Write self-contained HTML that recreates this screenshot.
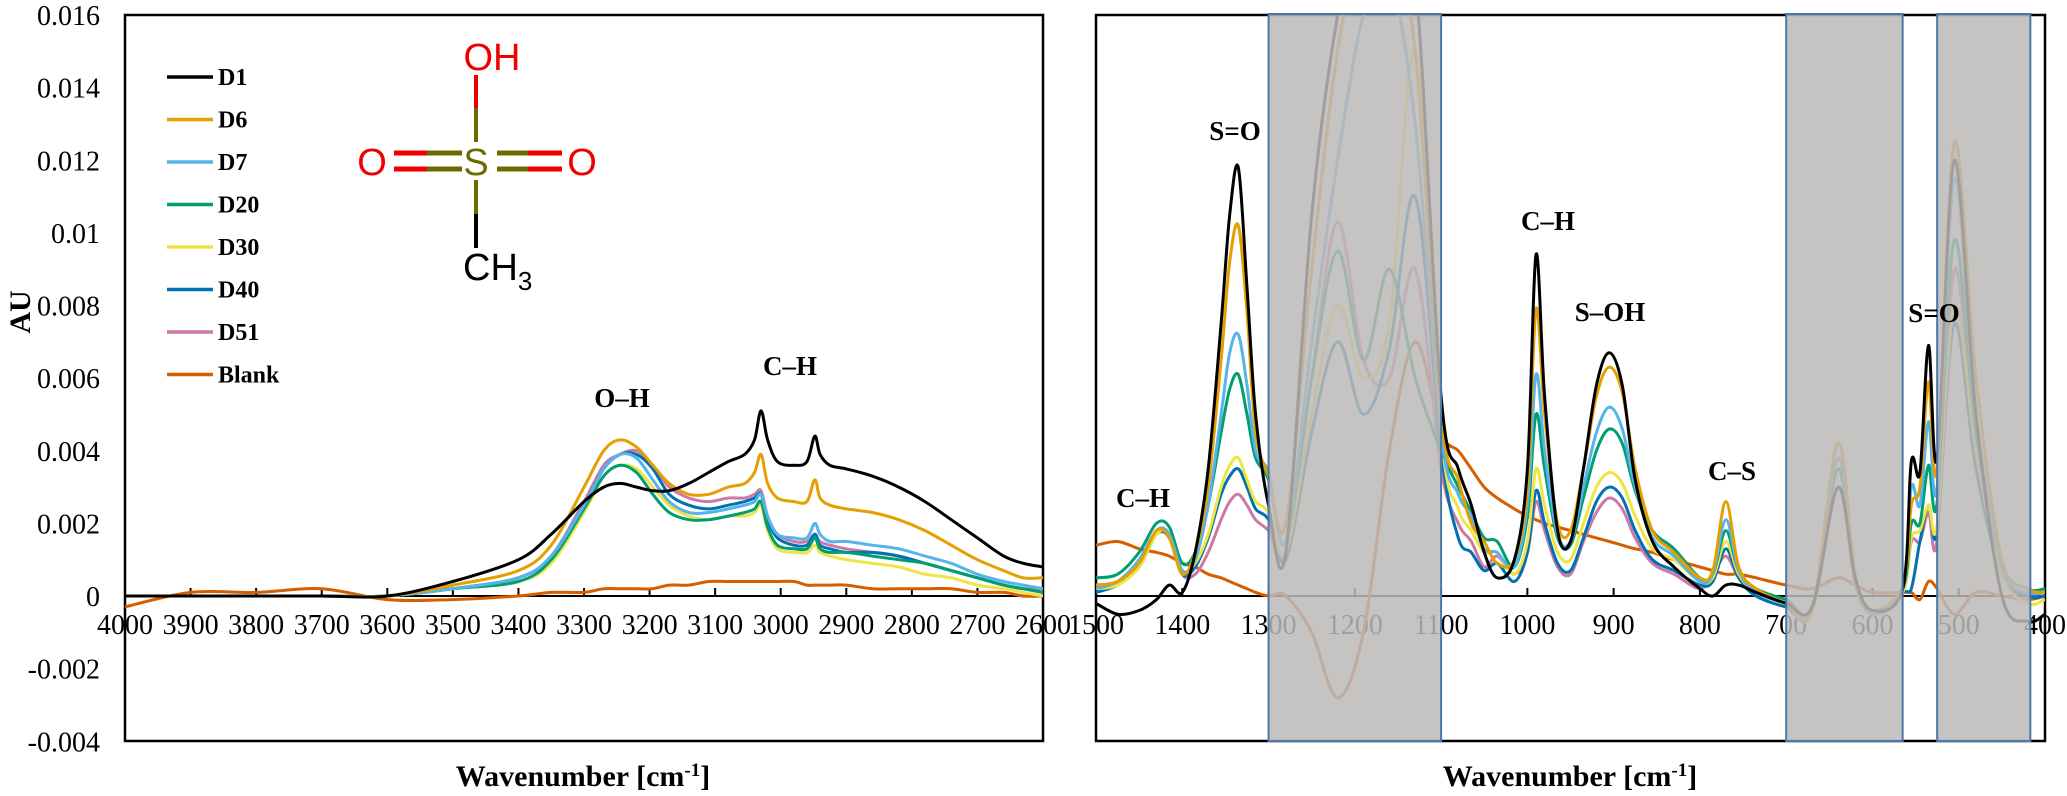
<!DOCTYPE html>
<html><head><meta charset="utf-8"><style>
html,body{margin:0;padding:0;background:#fff;}
svg{display:block;}
.tick{font-family:"Liberation Serif",serif;font-size:28px;fill:#000;}
.lab{font-family:"Liberation Serif",serif;font-size:27px;font-weight:bold;fill:#000;}
.leg{font-family:"Liberation Serif",serif;font-size:24px;font-weight:bold;fill:#000;}
.mol{font-family:"Liberation Sans",sans-serif;font-size:38px;}
</style></head><body>
<svg id="chart" width="2067" height="796" viewBox="0 0 2067 796" xmlns="http://www.w3.org/2000/svg">
<defs>
<clipPath id="clipL"><rect x="125" y="15" width="918" height="726"/></clipPath>
<clipPath id="clipR"><rect x="1096" y="15" width="949" height="726"/></clipPath>
</defs>
<g id="left"></g>
<g id="right"></g>
<g id="overlay">
<text class="lab" x="622" y="407" text-anchor="middle">O–H</text>
<text class="lab" x="790" y="375" text-anchor="middle">C–H</text>
<text class="lab" x="1143" y="507" text-anchor="middle">C–H</text>
<text class="lab" x="1235" y="140" text-anchor="middle">S=O</text>
<text class="lab" x="1548" y="230" text-anchor="middle">C–H</text>
<text class="lab" x="1610" y="321" text-anchor="middle">S–OH</text>
<text class="lab" x="1732" y="480" text-anchor="middle">C–S</text>
<text class="lab" x="1934" y="322" text-anchor="middle">S=O</text>
<text x="583" y="786" text-anchor="middle" font-family="Liberation Serif, serif" font-size="30" font-weight="bold">Wavenumber  [cm<tspan baseline-shift="super" font-size="19">-1</tspan>]</text>
<text x="1570" y="786" text-anchor="middle" font-family="Liberation Serif, serif" font-size="30" font-weight="bold">Wavenumber  [cm<tspan baseline-shift="super" font-size="19">-1</tspan>]</text>
<text transform="translate(30,312) rotate(-90)" text-anchor="middle" font-family="Liberation Serif, serif" font-size="30" font-weight="bold">AU</text>
<g>
<line x1="476" y1="75" x2="476" y2="108" stroke="#e00" stroke-width="4"/>
<line x1="476" y1="108" x2="476" y2="142" stroke="#6b6b00" stroke-width="4"/>
<line x1="476" y1="180" x2="476" y2="214" stroke="#6b6b00" stroke-width="4"/>
<line x1="476" y1="214" x2="476" y2="248" stroke="#000" stroke-width="4"/>
<line x1="394" y1="153" x2="427" y2="153" stroke="#e00" stroke-width="5"/>
<line x1="427" y1="153" x2="462" y2="153" stroke="#6b6b00" stroke-width="5"/>
<line x1="394" y1="169" x2="427" y2="169" stroke="#e00" stroke-width="5"/>
<line x1="427" y1="169" x2="462" y2="169" stroke="#6b6b00" stroke-width="5"/>
<line x1="497" y1="153" x2="528" y2="153" stroke="#6b6b00" stroke-width="5"/>
<line x1="528" y1="153" x2="562" y2="153" stroke="#e00" stroke-width="5"/>
<line x1="497" y1="169" x2="528" y2="169" stroke="#6b6b00" stroke-width="5"/>
<line x1="528" y1="169" x2="562" y2="169" stroke="#e00" stroke-width="5"/>
<text class="mol" x="476" y="175" text-anchor="middle" fill="#6b6b00">S</text>
<text class="mol" x="372" y="175" text-anchor="middle" fill="#e00">O</text>
<text class="mol" x="582" y="175" text-anchor="middle" fill="#e00">O</text>
<text class="mol" x="492" y="70" text-anchor="middle" fill="#e00">OH</text>
<text class="mol" x="463" y="280" fill="#000">CH<tspan font-size="26" dy="10">3</tspan></text>
</g>
</g>
</svg>
<script>
var NS='http://www.w3.org/2000/svg';
var seriesNames=['D1','D6','D7','D20','D30','D40','D51','Blank'];
var seriesColors=['#000000','#e69f00','#56b4e9','#009e73','#f0e442','#0072b2','#cc79a7','#d55e00'];
var yTicks=[0.016,0.014,0.012,0.01,0.008,0.006,0.004,0.002,0,-0.002,-0.004];
var yTickLabels=['0.016','0.014','0.012','0.01','0.008','0.006','0.004','0.002','0','-0.002','-0.004'];
var leftTicks=[4000,3900,3800,3700,3600,3500,3400,3300,3200,3100,3000,2900,2800,2700,2600];
var rightTicks=[1500,1400,1300,1200,1100,1000,900,800,700,600,500,400];
var bands=[[1300,1100],[700,565],[525,417]];

var wnL=[4000,3900,3800,3700,3600,3500,3400,3350,3300,3270,3245,3220,3195,3170,3140,3110,3080,3055,3040,3030,3020,3005,2980,2960,2948,2940,2925,2900,2860,2820,2780,2740,2700,2660,2630,2600];
var L_D1=[0,0,0,0,0,0.0004,0.0010,0.0017,0.0026,0.0030,0.0031,0.0030,0.0029,0.0029,0.0031,0.0034,0.0037,0.0039,0.0043,0.0051,0.0043,0.0037,0.0036,0.0037,0.0044,0.0039,0.0036,0.0035,0.0033,0.0030,0.0026,0.0021,0.0016,0.0011,0.0009,0.0008];
var L_D6=[0,0,0,0,0,0.0003,0.0007,0.0014,0.0030,0.0040,0.0043,0.0041,0.0036,0.0031,0.0028,0.0028,0.0030,0.0031,0.0034,0.0039,0.0031,0.0027,0.0026,0.0026,0.0032,0.0027,0.0025,0.0024,0.0023,0.0021,0.0018,0.0014,0.0010,0.0007,0.0005,0.0005];
var L_D7=[0,0,0,0,0,0.0002,0.0005,0.0011,0.0025,0.0035,0.0039,0.0038,0.0032,0.0026,0.0023,0.0023,0.0024,0.0025,0.0026,0.0028,0.0022,0.0017,0.0016,0.0016,0.0020,0.0017,0.0015,0.0015,0.0014,0.0013,0.0011,0.0009,0.0006,0.0004,0.0003,0.0002];
var L_D20=[0,0,0,0,0,0.0002,0.0004,0.0010,0.0024,0.0033,0.0036,0.0034,0.0028,0.0023,0.0021,0.0021,0.0022,0.0023,0.0024,0.0026,0.0019,0.0014,0.0013,0.0013,0.0016,0.0013,0.0012,0.0012,0.0011,0.0010,0.0009,0.0007,0.0005,0.0003,0.0002,0.0001];
var L_D30=[0,0,0,0,0,0.0002,0.0004,0.0009,0.0023,0.0033,0.0036,0.0035,0.0030,0.0025,0.0022,0.0021,0.0022,0.0022,0.0023,0.0025,0.0018,0.0013,0.0012,0.0012,0.0014,0.0012,0.0011,0.0010,0.0009,0.0008,0.0006,0.0005,0.0003,0.0002,0.0001,0.0000];
var L_D40=[0,0,0,0,0,0.0002,0.0005,0.0011,0.0025,0.0035,0.0039,0.0039,0.0035,0.0028,0.0025,0.0024,0.0025,0.0026,0.0027,0.0028,0.0021,0.0016,0.0014,0.0014,0.0017,0.0014,0.0013,0.0012,0.0012,0.0011,0.0009,0.0007,0.0005,0.0003,0.0002,0.0001];
var L_D51=[0,0,0,0,0,0.0002,0.0005,0.0011,0.0026,0.0036,0.0039,0.0040,0.0036,0.0030,0.0027,0.0026,0.0027,0.0027,0.0028,0.0029,0.0022,0.0017,0.0015,0.0015,0.0017,0.0015,0.0014,0.0013,0.0012,0.0011,0.0009,0.0007,0.0005,0.0003,0.0002,0.0002];
var L_Blank=[-0.0003,0.0001,0.0001,0.0002,-0.0001,-0.0001,0.0000,0.0001,0.0001,0.0002,0.0002,0.0002,0.0002,0.0003,0.0003,0.0004,0.0004,0.0004,0.0004,0.0004,0.0004,0.0004,0.0004,0.0003,0.0003,0.0003,0.0003,0.0003,0.0002,0.0002,0.0002,0.0002,0.0001,0.0001,0.0000,0.0000];

var wnR=[1500,1475,1450,1430,1415,1400,1385,1370,1355,1345,1335,1325,1315,1300,1280,1250,1220,1190,1160,1130,1100,1080,1065,1050,1035,1015,1000,990,980,965,950,935,920,905,890,875,855,830,800,785,770,755,735,700,670,640,620,600,565,555,545,535,525,505,480,450,420,400];
var R_D1=[-0.0002,-0.0005,-0.0004,-0.0001,0.0003,0.0001,0.0012,0.0035,0.0075,0.0105,0.0118,0.0085,0.0050,0.0025,0.0012,0.0105,0.0160,0.0190,0.0190,0.0170,0.0055,0.0035,0.0025,0.0012,0.0005,0.0010,0.0035,0.0094,0.0055,0.0018,0.0015,0.0035,0.0058,0.0067,0.0058,0.0032,0.0015,0.0008,0.0002,0.0000,0.0003,0.0003,0.0001,-0.0002,-0.0003,0.0030,0.0005,-0.0004,0.0002,0.0037,0.0034,0.0069,0.0038,0.0120,0.0050,0.0000,-0.0007,-0.0005];
var R_D6=[0.0003,0.0004,0.0009,0.0018,0.0016,0.0006,0.0012,0.0030,0.0065,0.0092,0.0102,0.0078,0.0045,0.0033,0.0020,0.0090,0.0150,0.0180,0.0180,0.0150,0.0050,0.0032,0.0020,0.0015,0.0009,0.0010,0.0030,0.0079,0.0050,0.0020,0.0018,0.0035,0.0055,0.0063,0.0056,0.0035,0.0018,0.0012,0.0005,0.0007,0.0026,0.0008,0.0002,-0.0002,-0.0004,0.0042,0.0006,-0.0004,0.0003,0.0025,0.0030,0.0059,0.0035,0.0125,0.0060,0.0010,0.0002,0.0001];
var R_D7=[0.0002,0.0004,0.0010,0.0018,0.0017,0.0007,0.0010,0.0025,0.0050,0.0067,0.0072,0.0058,0.0040,0.0034,0.0015,0.0070,0.0120,0.0160,0.0170,0.0130,0.0045,0.0028,0.0022,0.0013,0.0012,0.0008,0.0025,0.0061,0.0040,0.0017,0.0015,0.0030,0.0045,0.0052,0.0046,0.0030,0.0016,0.0011,0.0004,0.0006,0.0021,0.0007,0.0001,-0.0002,-0.0004,0.0038,0.0005,-0.0005,0.0002,0.0030,0.0025,0.0048,0.0030,0.0115,0.0050,0.0008,0.0001,0.0001];
var R_D20=[0.0005,0.0006,0.0012,0.0020,0.0019,0.0009,0.0012,0.0025,0.0045,0.0057,0.0061,0.0050,0.0038,0.0032,0.0015,0.0060,0.0095,0.0065,0.0090,0.0060,0.0040,0.0030,0.0023,0.0016,0.0015,0.0008,0.0022,0.0050,0.0035,0.0016,0.0014,0.0027,0.0040,0.0046,0.0042,0.0029,0.0018,0.0013,0.0005,0.0006,0.0018,0.0007,0.0002,-0.0001,-0.0003,0.0035,0.0004,-0.0004,0.0002,0.0020,0.0020,0.0036,0.0026,0.0098,0.0045,0.0009,0.0002,0.0002];
var R_D30=[0.0002,0.0003,0.0008,0.0017,0.0017,0.0007,0.0009,0.0017,0.0030,0.0036,0.0038,0.0032,0.0026,0.0023,0.0012,0.0050,0.0080,0.0060,0.0075,0.0150,0.0045,0.0024,0.0018,0.0012,0.0012,0.0006,0.0015,0.0035,0.0025,0.0012,0.0010,0.0020,0.0030,0.0034,0.0031,0.0022,0.0013,0.0010,0.0004,0.0005,0.0015,0.0006,0.0001,-0.0002,-0.0004,0.0030,0.0003,-0.0005,0.0001,0.0016,0.0018,0.0025,0.0020,0.0080,0.0040,0.0006,-0.0002,-0.0001];
var R_D40=[0.0001,0.0003,0.0008,0.0017,0.0016,0.0006,0.0008,0.0016,0.0028,0.0033,0.0035,0.0030,0.0024,0.0021,0.0010,0.0045,0.0070,0.0050,0.0068,0.0110,0.0040,0.0016,0.0012,0.0007,0.0009,0.0004,0.0012,0.0029,0.0020,0.0009,0.0007,0.0016,0.0026,0.0030,0.0027,0.0018,0.0010,0.0007,0.0003,0.0004,0.0013,0.0005,0.0000,-0.0003,-0.0004,0.0030,0.0004,-0.0005,0.0001,0.0002,0.0015,0.0025,0.0018,0.0075,0.0035,0.0006,0.0000,0.0000];
var R_D51=[0.0003,0.0004,0.0009,0.0018,0.0017,0.0006,0.0006,0.0012,0.0021,0.0026,0.0028,0.0025,0.0021,0.0018,0.0012,0.0060,0.0103,0.0065,0.0060,0.0090,0.0035,0.0020,0.0015,0.0008,0.0011,0.0006,0.0012,0.0026,0.0018,0.0008,0.0006,0.0015,0.0023,0.0027,0.0024,0.0016,0.0009,0.0006,0.0002,0.0006,0.0011,0.0005,0.0000,-0.0003,-0.0004,0.0042,0.0005,-0.0005,0.0001,0.0015,0.0015,0.0023,0.0016,0.0090,0.0040,0.0006,0.0000,0.0000];
var R_Blank=[0.0014,0.0015,0.0013,0.0012,0.0011,0.0009,0.0008,0.0006,0.0005,0.0004,0.0003,0.0002,0.0001,0.0000,0.0000,-0.0010,-0.0028,-0.0010,0.0040,0.0070,0.0045,0.0040,0.0035,0.0030,0.0027,0.0024,0.0022,0.0021,0.0020,0.0019,0.0018,0.0017,0.0016,0.0015,0.0014,0.0013,0.0012,0.0010,0.0008,0.0007,0.0006,0.0006,0.0005,0.0003,0.0002,0.0005,0.0003,0.0001,0.0001,0.0001,-0.0001,0.0004,0.0002,-0.0005,0.0001,0.0000,-0.0001,0.0000];

var leftSeries=[L_D1,L_D6,L_D7,L_D20,L_D30,L_D40,L_D51,L_Blank];
var rightSeries=[R_D1,R_D6,R_D7,R_D20,R_D30,R_D40,R_D51,R_Blank];

function yS(v){return 596-(v/0.016)*581;}
function xL(w){return 125+(4000-w)/1400*918;}
function xR(w){return 1096+(1500-w)/1100*949;}
function mk(tag,attrs,parent){var e=document.createElementNS(NS,tag);for(var k in attrs)e.setAttribute(k,attrs[k]);parent.appendChild(e);return e;}
function smooth(pts){
  var d='M'+pts[0][0].toFixed(1)+','+pts[0][1].toFixed(1);
  for(var i=0;i<pts.length-1;i++){
    var p0=pts[i-1]||pts[i],p1=pts[i],p2=pts[i+1],p3=pts[i+2]||p2;
    var c1x=p1[0]+(p2[0]-p0[0])/6,c1y=p1[1]+(p2[1]-p0[1])/6;
    var c2x=p2[0]-(p3[0]-p1[0])/6,c2y=p2[1]-(p3[1]-p1[1])/6;
    d+=' C'+c1x.toFixed(1)+','+c1y.toFixed(1)+' '+c2x.toFixed(1)+','+c2y.toFixed(1)+' '+p2[0].toFixed(1)+','+p2[1].toFixed(1);
  }
  return d;
}
var L=document.getElementById('left'),R=document.getElementById('right');
var f1=mk('rect',{x:125,y:15,width:918,height:726,fill:'none',stroke:'#000','stroke-width':2.5},L);


var f2=mk('rect',{x:1096,y:15,width:949,height:726,fill:'none',stroke:'#000','stroke-width':2.5},R);


for(var i=0;i<yTicks.length;i++){
  var t=mk('text',{x:100,y:yS(yTicks[i])+10,'text-anchor':'end','class':'tick'},L);
  t.textContent=yTickLabels[i];
  
  
}
var z1=mk('line',{x1:125,x2:1043,y1:yS(0),y2:yS(0),stroke:'#000','stroke-width':2},L);


var z2=mk('line',{x1:1096,x2:2045,y1:yS(0),y2:yS(0),stroke:'#000','stroke-width':2},R);


leftTicks.forEach(function(w){
  var x=xL(w);
  var tk=mk('line',{x1:x,x2:x,y1:yS(0),y2:yS(0)-8,stroke:'#000','stroke-width':2},L);
  
  
  var t=mk('text',{x:x,y:yS(0)+38,'text-anchor':'middle','class':'tick'},L);
  t.textContent=w;
  
  
});
rightTicks.forEach(function(w){
  var x=xR(w);
  var tk=mk('line',{x1:x,x2:x,y1:yS(0),y2:yS(0)-8,stroke:'#000','stroke-width':2},R);
  
  
  var t=mk('text',{x:x,y:yS(0)+38,'text-anchor':'middle','class':'tick'},R);
  t.textContent=w;
  
  
});
var gL=mk('g',{'clip-path':'url(#clipL)'},L);
var gR=mk('g',{'clip-path':'url(#clipR)'},R);
for(var s=leftSeries.length-1;s>=0;s--){
  var pts=wnL.map(function(w,i){return [xL(w),yS(leftSeries[s][i])];});
  var p=mk('path',{d:smooth(pts),fill:'none',stroke:seriesColors[s],'stroke-width':3,'stroke-linejoin':'round'},gL);
  
  
}
for(var s=rightSeries.length-1;s>=0;s--){
  var pts=wnR.map(function(w,i){return [xR(w),yS(rightSeries[s][i])];});
  var p=mk('path',{d:smooth(pts),fill:'none',stroke:seriesColors[s],'stroke-width':3,'stroke-linejoin':'round'},gR);
  
  
}
bands.forEach(function(b){
  var x1=xR(b[0]),x2=xR(b[1]);
  var r=mk('rect',{x:x1,y:14,width:x2-x1,height:727,fill:'rgb(188,184,184)','fill-opacity':0.85,stroke:'#4a78a8','stroke-width':2},R);
  
  
});
for(var i=0;i<seriesNames.length;i++){
  var y=77+i*42.5;
  var ln=mk('line',{x1:167,x2:213,y1:y,y2:y,stroke:seriesColors[i],'stroke-width':3.5},L);
  
  
  var t=mk('text',{x:218,y:y+8,'class':'leg'},L);
  t.textContent=seriesNames[i];
  
  
}
</script>
</body></html>
